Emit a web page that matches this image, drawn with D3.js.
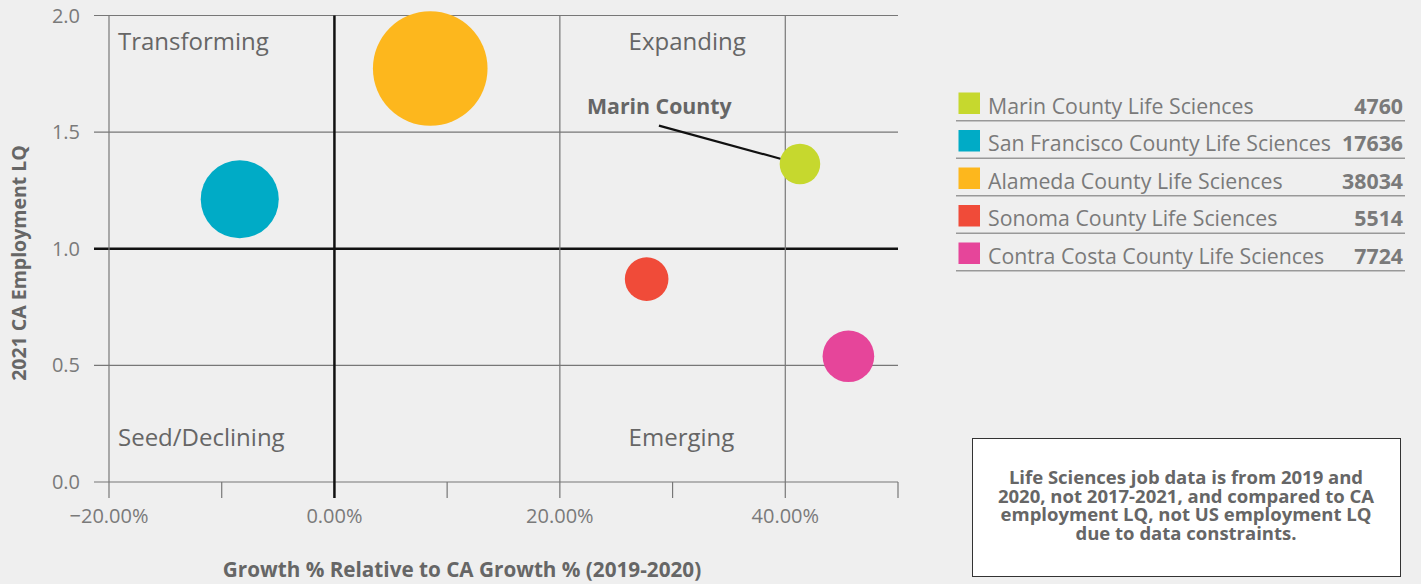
<!DOCTYPE html>
<meta charset="utf-8">
<style>
body { margin: 0; background: #efefef; }
svg { font-family: "Open Sans", sans-serif; }
.tick-label { font-size: 20px; fill: #7a7a7a; }
.quad { font-size: 24px; fill: #666; }
.axis-title { font-size: 20.7px; font-weight: bold; fill: #666; }
.legend text { font-size: 21.3px; fill: #7a7a7a; }
.note { font-size: 18.5px; font-weight: bold; fill: #666; }
</style>
<body>
<div id="chart"></div>
<script src="https://cdn.jsdelivr.net/npm/d3@7"></script>
<script>
// Life sciences bubbles: growth vs. CA employment LQ, size = jobs
var counties = ["Marin County Life Sciences", "San Francisco County Life Sciences",
  "Alameda County Life Sciences", "Sonoma County Life Sciences", "Contra Costa County Life Sciences"];
var growth = [41.3, -8.4, 8.5, 27.7, 45.6];      // % relative to CA growth
var lq = [1.363, 1.212, 1.773, 0.870, 0.539];     // 2021 CA employment LQ
var jobs = [4760, 17636, 38034, 5514, 7724];
var colors = ["#c6d82e", "#00abc6", "#fdb71d", "#f04b39", "#e6459a"];

var xTicks = [-20, -10, 0, 10, 20, 30, 40, 50];
var xLabelled = [-20, 0, 20, 40];
var yTicks = [0, 0.5, 1.0, 1.5, 2.0];

var quadrants = [
  {label: "Transforming", gx: -20, gy: 2},
  {label: "Expanding", gx: 25.3, gy: 2},
  {label: "Seed/Declining", gx: -20, gy: 0},
  {label: "Emerging", gx: 25.3, gy: 0}
];

var noteLines = ["Life Sciences job data is from 2019 and",
  "2020, not 2017-2021, and compared to CA",
  "employment LQ, not US employment LQ",
  "due to data constraints."];

var width = 1421, height = 584;
var svg = d3.select("#chart").append("svg")
    .attr("width", width)
    .attr("height", height);

var x = d3.scaleLinear().domain([-20, 50]).range([109, 898]);
var y = d3.scaleLinear().domain([0, 2]).range([482, 15.5]);
var r = d3.scaleSqrt().domain([0, d3.max(jobs)]).range([0, 57.3]);

var gridLeft = 94;

// horizontal gridlines
svg.append("g").selectAll("line")
    .data(yTicks)
    .enter().append("line")
    .attr("x1", gridLeft)
    .attr("x2", x(50))
    .attr("y1", function (d) { return y(d); })
    .attr("y2", function (d) { return y(d); })
    .attr("stroke", function (d) { return d === 1 ? "#111" : "#777"; })
    .attr("stroke-width", function (d) { return d === 1 ? 2.5 : 1.2; });

// vertical gridlines (full height) and short ticks below axis
svg.append("g").selectAll("line")
    .data(xTicks)
    .enter().append("line")
    .attr("x1", function (d) { return x(d); })
    .attr("x2", function (d) { return x(d); })
    .attr("y1", function (d) { return (d % 20 === 0) ? y(2) : y(0); })
    .attr("y2", y(0) + 16)
    .attr("stroke", function (d) { return d === 0 ? "#111" : "#777"; })
    .attr("stroke-width", function (d) { return d === 0 ? 2.5 : 1.2; });

// y tick labels
svg.append("g").selectAll("text")
    .data(yTicks)
    .enter().append("text")
    .attr("class", "tick-label")
    .attr("x", 80)
    .attr("y", function (d) { return y(d) + 7; })
    .attr("text-anchor", "end")
    .text(function (d) { return d3.format(".1f")(d); });

// x tick labels
svg.append("g").selectAll("text")
    .data(xLabelled)
    .enter().append("text")
    .attr("class", "tick-label")
    .attr("x", function (d) { return x(d); })
    .attr("y", 523)
    .attr("text-anchor", "middle")
    .text(function (d) { return d3.format(".2f")(d) + "%"; });

// axis titles
svg.append("text")
    .attr("class", "axis-title")
    .attr("x", 462)
    .attr("y", 577)
    .attr("text-anchor", "middle")
    .text("Growth % Relative to CA Growth % (2019-2020)");

svg.append("text")
    .attr("class", "axis-title")
    .style("font-size", "19.5px")
    .attr("transform", "translate(26,263) rotate(-90)")
    .attr("text-anchor", "middle")
    .text("2021 CA Employment LQ");

// quadrant labels
svg.append("g").selectAll("text")
    .data(quadrants)
    .enter().append("text")
    .attr("class", "quad")
    .attr("x", function (d) { return x(d.gx) + 9; })
    .attr("y", function (d) { return d.gy === 2 ? y(d.gy) + 34.5 : y(d.gy) - 36.5; })
    .text(function (d) { return d.label; });

// bubbles
svg.append("g").selectAll("circle")
    .data(counties)
    .enter().append("circle")
    .attr("cx", function (d, i) { return x(growth[i]); })
    .attr("cy", function (d, i) { return y(lq[i]); })
    .attr("r", function (d, i) { return r(jobs[i]); })
    .attr("fill", function (d, i) { return colors[i]; });

// Marin callout
var mx = x(growth[0]), my = y(lq[0]), mr = r(jobs[0]);
var sx = mx - 141, sy = my - 38.5;
var ang = Math.atan2(my - sy, mx - sx);
svg.append("line")
    .attr("x1", sx).attr("y1", sy)
    .attr("x2", mx - Math.cos(ang) * mr).attr("y2", my - Math.sin(ang) * mr)
    .attr("stroke", "#111")
    .attr("stroke-width", 2.2);
svg.append("text")
    .attr("x", sx - 72)
    .attr("y", sy - 12)
    .attr("font-size", "21.3px")
    .attr("font-weight", "bold")
    .attr("fill", "#666")
    .text("Marin County");

// legend
var legend = svg.append("g").attr("class", "legend");
var rowH = 37.5, top0 = 106;
var rows = legend.selectAll("g")
    .data(counties)
    .enter().append("g")
    .attr("transform", function (d, i) { return "translate(0," + (top0 + i * rowH) + ")"; });
rows.append("rect")
    .attr("x", 958.5).attr("y", -13.5)
    .attr("width", 21.5).attr("height", 21.5)
    .attr("fill", function (d, i) { return colors[i]; });
rows.append("text")
    .attr("x", 988).attr("y", 7.5)
    .text(function (d) { return d; });
rows.append("text")
    .attr("x", 1403).attr("y", 7.5)
    .attr("text-anchor", "end")
    .attr("font-weight", "bold")
    .text(function (d, i) { return jobs[i]; });
rows.append("line")
    .attr("x1", 956).attr("x2", 1405)
    .attr("y1", 14.7).attr("y2", 14.7)
    .attr("stroke", "#999")
    .attr("stroke-width", 1.5);

// note box
svg.append("rect")
    .attr("x", 972.5).attr("y", 438.5)
    .attr("width", 428).attr("height", 138)
    .attr("fill", "#fff")
    .attr("stroke", "#333")
    .attr("stroke-width", 1);
svg.append("text")
    .attr("class", "note")
    .attr("text-anchor", "middle")
    .selectAll("tspan")
    .data(noteLines)
    .enter().append("tspan")
    .attr("x", 1186)
    .attr("y", function (d, i) { return 484 + i * 18.7; })
    .text(function (d) { return d; });
</script>
</body>
